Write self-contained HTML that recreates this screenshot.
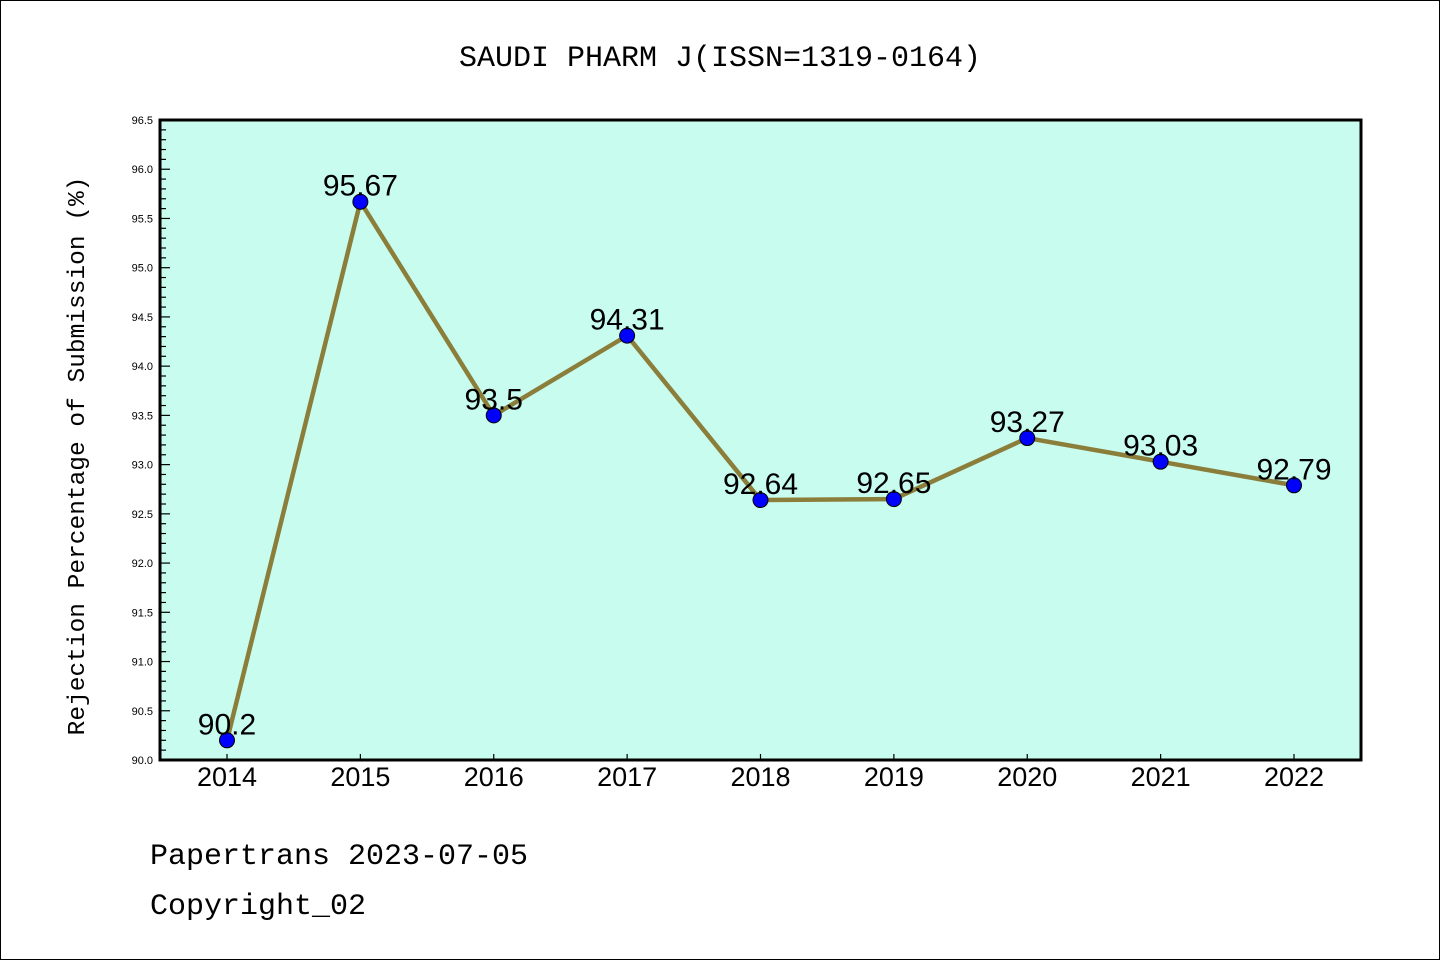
<!DOCTYPE html>
<html><head><meta charset="utf-8"><style>
body{margin:0;background:#fff;}
svg{display:block;font-family:"Liberation Mono","WenQuanYi Zen Hei",monospace;}
</style></head><body>
<svg id="chart" width="1440" height="960">
<rect x="0.5" y="0.5" width="1439" height="959" fill="#fff" stroke="#000"/>
<text x="720" y="66" text-anchor="middle" font-size="30">SAUDI PHARM J(ISSN=1319-0164)</text>
<rect x="160" y="120" width="1201" height="640" fill="#c8fcee"/>
<g id="ticks"></g>
<g id="series"></g>
<rect x="160" y="120" width="1201" height="640" fill="none" stroke="#000" stroke-width="3"/>
<text transform="translate(84,456) rotate(-90)" text-anchor="middle" font-size="24.5">Rejection Percentage of Submission (%)</text>
<text x="150" y="864" font-size="30">Papertrans 2023-07-05</text>
<text x="150" y="914" font-size="30">Copyright_02</text>
</svg>
<script>
const years=["2014","2015","2016","2017","2018","2019","2020","2021","2022"];
const values=[90.2,95.67,93.5,94.31,92.64,92.65,93.27,93.03,92.79];
const valueLabels=["90.2","95.67","93.5","94.31","92.64","92.65","93.27","93.03","92.79"];
const yTicks=["90.0","90.5","91.0","91.5","92.0","92.5","93.0","93.5","94.0","94.5","95.0","95.5","96.0","96.5"];
const ns="http://www.w3.org/2000/svg";
const yMin=90,yMax=96.5,pTop=120,pBot=760,pLeft=160;
const yS=v=>pBot-(v-yMin)/(yMax-yMin)*(pBot-pTop);
const xS=i=>227+i*(1294-227)/(years.length-1);
function mk(t,a,p){const e=document.createElementNS(ns,t);for(const k in a)e.setAttribute(k,a[k]);p.appendChild(e);return e;}
const tg=document.getElementById('ticks'),sg=document.getElementById('series');
for(let k=0;k<=65;k++){const v=yMin+k*0.1;const major=k%5===0;
const l=mk('line',{x1:pLeft,x2:pLeft+(major?10:6),y1:yS(v),y2:yS(v),stroke:'#000','stroke-width':1.2},tg);

}
yTicks.forEach(s=>{const t=mk('text',{x:153,y:yS(parseFloat(s))+4,'text-anchor':'end','font-size':11,'font-family':'Liberation Sans, sans-serif'},tg);t.textContent=s;

});
years.forEach((s,i)=>{const l=mk('line',{x1:xS(i),x2:xS(i),y1:pBot,y2:pBot-6,stroke:'#000','stroke-width':1.2},tg);


const t=mk('text',{x:xS(i),y:786,'text-anchor':'middle','font-size':27,'font-family':'Liberation Sans, sans-serif'},tg);t.textContent=s;

});
const pl=mk('polyline',{points:values.map((v,i)=>xS(i)+','+yS(v)).join(' '),fill:'none',stroke:'#8b7d3a','stroke-width':4.5,'stroke-linejoin':'round'},sg);


values.forEach((v,i)=>{const c=mk('circle',{cx:xS(i),cy:yS(v),r:7.5,fill:'#0000ff',stroke:'#000','stroke-width':1},sg);


const t=mk('text',{x:xS(i),y:yS(v)-6,'text-anchor':'middle','font-size':30,'font-family':'Liberation Sans, sans-serif'},sg);t.textContent=valueLabels[i];

});
</script>
</body></html>
